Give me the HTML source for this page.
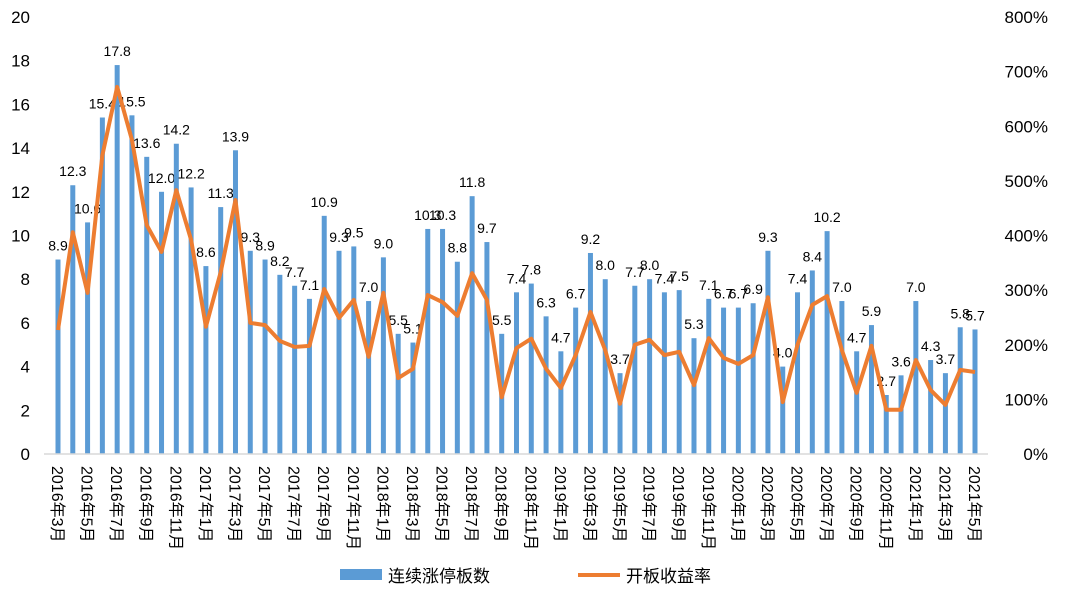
<!DOCTYPE html>
<html><head><meta charset="utf-8"><style>
body{margin:0;background:#fff;}
svg text{font-family:"Liberation Sans","Noto Sans CJK SC",sans-serif;}
</style></head><body>
<svg id="c" width="1080" height="594"></svg>
<script>
const months=[];for(let y=2016,m=3;months.length<63;){months.push(y+'年'+m+'月');m++;if(m>12){m=1;y++;}}
const boards=[8.9,12.3,10.6,15.4,17.8,15.5,13.6,12.0,14.2,12.2,8.6,11.3,13.9,9.3,8.9,8.2,7.7,7.1,10.9,9.3,9.5,7.0,9.0,5.5,5.1,10.3,10.3,8.8,11.8,9.7,5.5,7.4,7.8,6.3,4.7,6.7,9.2,8.0,3.7,7.7,8.0,7.4,7.5,5.3,7.1,6.7,6.7,6.9,9.3,4.0,7.4,8.4,10.2,7.0,4.7,5.9,2.7,3.6,7.0,4.3,3.7,5.8,5.7];
const returns=[227,406,295,547,672,575,419,370,483,392,233,333,465,240,236,207,196,198,302,249,282,178,295,139,156,291,278,253,331,282,104,194,211,156,121,181,260,190,92,200,209,181,187,126,212,176,165,181,287,95,200,273,289,190,112,198,81,81,172,117,90,154,150];
const leftTicks=[0,2,4,6,8,10,12,14,16,18,20];
const rightTicks=[0,100,200,300,400,500,600,700,800];
const NS='http://www.w3.org/2000/svg',svg=document.getElementById('c');
const y0=454,y1=17;
const yL=v=>y0-(v/20)*(y0-y1), yR=v=>y0-(v/800)*(y0-y1);
const x=i=>58+i*(975-58)/62;
function el(t,a,p){const e=document.createElementNS(NS,t);for(const k in a)e.setAttribute(k,a[k]);(p||svg).appendChild(e);return e;}
leftTicks.forEach(v=>{const t=el('text',{x:30,y:yL(v)+6,'text-anchor':'end','font-size':17,fill:'#000'});t.textContent=v;

});
rightTicks.forEach(v=>{const t=el('text',{x:1048,y:yR(v)+6,'text-anchor':'end','font-size':17,fill:'#000'});t.textContent=v+'%';

});
boards.forEach((v,i)=>{const r=el('rect',{x:x(i)-2.5,y:yL(v),width:5,height:y0-yL(v),fill:'#5b9bd5'});


const t=el('text',{x:x(i),y:yL(v)-9,'text-anchor':'middle','font-size':14,fill:'#000'});t.textContent=v.toFixed(1);

});
const ax=el('line',{x1:44,x2:988,y1:y0,y2:y0,stroke:'#d9d9d9','stroke-width':1.5});


const pl=el('polyline',{points:returns.map((v,i)=>x(i)+','+yR(v)).join(' '),fill:'none',stroke:'#ed7d31','stroke-width':4,'stroke-linejoin':'round'});


months.forEach((m,i)=>{if(i%2)return;const t=el('text',{transform:`translate(${x(i)-6},466) rotate(90)`,'font-size':16,fill:'#000'});t.textContent=m;

});
const lg=el('g',{});
const lr=el('rect',{x:340,y:569,width:42,height:11,fill:'#5b9bd5'},lg);
const lt=el('text',{x:388,y:582,'font-size':17,fill:'#000'},lg);lt.textContent='连续涨停板数';
const ll=el('line',{x1:578,x2:620,y1:575,y2:575,stroke:'#ed7d31','stroke-width':4},lg);
const lt2=el('text',{x:626,y:582,'font-size':17,fill:'#000'},lg);lt2.textContent='开板收益率';
</script></body></html>
